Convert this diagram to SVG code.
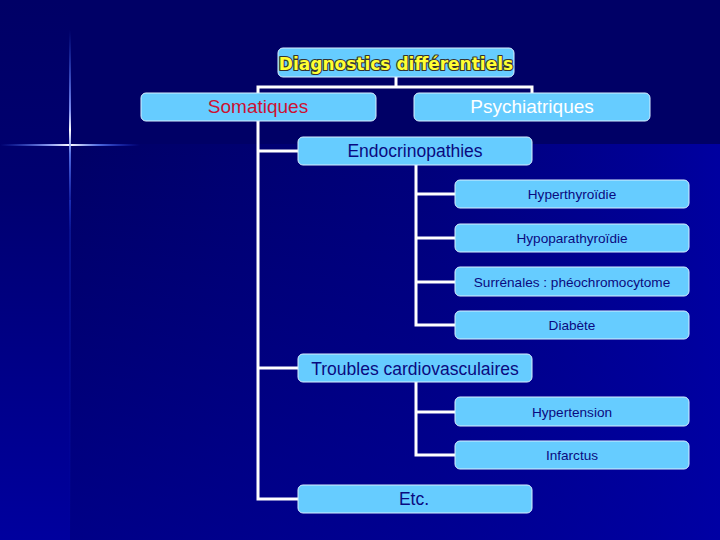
<svg xmlns="http://www.w3.org/2000/svg" width="720" height="540" viewBox="0 0 720 540">
<defs>
<linearGradient id="leftBand" x1="0" y1="0" x2="0" y2="1">
<stop offset="0" stop-color="#000066"/>
<stop offset="0.35" stop-color="#000070"/>
<stop offset="1" stop-color="#00009e"/>
</linearGradient>
<linearGradient id="rightBand" x1="0" y1="0" x2="1" y2="0">
<stop offset="0" stop-color="#00008a" stop-opacity="0"/>
<stop offset="0.55" stop-color="#000088" stop-opacity="0.6"/>
<stop offset="1" stop-color="#0000a0"/>
</linearGradient>
<linearGradient id="rightBandV" x1="0" y1="0" x2="0" y2="1">
<stop offset="0" stop-color="#0000a0" stop-opacity="0"/>
<stop offset="1" stop-color="#0000a8" stop-opacity="0.5"/>
</linearGradient>
<linearGradient id="flareH" x1="0" y1="0" x2="1" y2="0">
<stop offset="0" stop-color="#3366ff" stop-opacity="0"/>
<stop offset="0.35" stop-color="#99aaff" stop-opacity="0.9"/>
<stop offset="0.5" stop-color="#ffffff"/>
<stop offset="0.7" stop-color="#6688ff" stop-opacity="0.8"/>
<stop offset="1" stop-color="#2244ff" stop-opacity="0"/>
</linearGradient>
<linearGradient id="flareV" x1="0" y1="0" x2="0" y2="1">
<stop offset="0" stop-color="#3366ff" stop-opacity="0"/>
<stop offset="0.4" stop-color="#8899ff" stop-opacity="0.9"/>
<stop offset="0.5" stop-color="#ffffff"/>
<stop offset="0.62" stop-color="#6688ff" stop-opacity="0.8"/>
<stop offset="1" stop-color="#2244ff" stop-opacity="0"/>
</linearGradient>
<linearGradient id="flareTail" x1="0" y1="0" x2="0" y2="1">
<stop offset="0" stop-color="#2244dd" stop-opacity="0.5"/>
<stop offset="1" stop-color="#1122cc" stop-opacity="0"/>
</linearGradient>
</defs>
<style>
.box{fill:#66ccff;stroke:#d8efff;stroke-width:1}
.conn{stroke:#ffffff;stroke-width:3;fill:none}
.t{font-family:"Liberation Sans",Arial,sans-serif;text-anchor:middle;fill:#0a0a80}
.big{font-size:17.5px}
.small{font-size:13.6px}
</style>
<!-- background -->
<rect x="0" y="0" width="720" height="540" fill="#000066"/>
<rect x="0" y="0" width="70" height="540" fill="url(#leftBand)"/>
<rect x="70" y="144" width="650" height="396" fill="url(#rightBand)"/>
<rect x="70" y="144" width="650" height="396" fill="url(#rightBandV)"/>
<rect x="69.5" y="200" width="1.2" height="340" fill="url(#flareTail)"/>
<rect x="0" y="144" width="140" height="2" fill="url(#flareH)"/>
<rect x="69" y="30" width="2" height="200" fill="url(#flareV)"/>
<g id="connectors">
<polyline class="conn" points="396,77 396,87"/>
<polyline class="conn" points="258,93 258,87 532,87 532,93"/>
<polyline class="conn" points="258,121 258,499 298,499"/>
<line class="conn" x1="258" y1="151" x2="298" y2="151"/>
<line class="conn" x1="258" y1="368" x2="298" y2="368"/>
<polyline class="conn" points="416,165 416,325 455,325"/>
<line class="conn" x1="416" y1="194" x2="455" y2="194"/>
<line class="conn" x1="416" y1="238" x2="455" y2="238"/>
<line class="conn" x1="416" y1="282" x2="455" y2="282"/>
<polyline class="conn" points="416,382 416,455 455,455"/>
<line class="conn" x1="416" y1="412" x2="455" y2="412"/>
</g>
<g id="n-diagnostics">
<rect class="box" x="278" y="48" width="236" height="29" rx="5"/>
<text x="396" y="70" style="font-family:'DejaVu Sans',Verdana,sans-serif;font-weight:bold;font-size:17px;text-anchor:middle;fill:#ffff33;stroke:#333333;stroke-width:2.2;paint-order:stroke;stroke-linejoin:round">Diagnostics différentiels</text>
</g>
<g id="n-somatiques">
<rect class="box" x="141" y="93" width="235" height="28" rx="5"/>
<text class="t" x="258" y="113" style="font-size:19px;fill:#cc1133">Somatiques</text>
</g>
<g id="n-psychiatriques">
<rect class="box" x="414" y="93" width="236" height="28" rx="5"/>
<text class="t" x="532" y="113" style="font-size:19px;fill:#ffffff">Psychiatriques</text>
</g>
<g id="n-endocrinopathies">
<rect class="box" x="298" y="137" width="234" height="28" rx="5"/>
<text class="t big" x="415" y="157">Endocrinopathies</text>
</g>
<g id="n-hyperthyroidie">
<rect class="box" x="455" y="180" width="234" height="28" rx="5"/>
<text class="t small" x="572" y="199">Hyperthyroïdie</text>
</g>
<g id="n-hypoparathyroidie">
<rect class="box" x="455" y="224" width="234" height="28" rx="5"/>
<text class="t small" x="572" y="243">Hypoparathyroïdie</text>
</g>
<g id="n-surrenales">
<rect class="box" x="455" y="267" width="234" height="29" rx="5"/>
<text class="t small" x="572" y="287">Surrénales : phéochromocytome</text>
</g>
<g id="n-diabete">
<rect class="box" x="455" y="311" width="234" height="28" rx="5"/>
<text class="t small" x="572" y="330">Diabète</text>
</g>
<g id="n-troubles">
<rect class="box" x="298" y="354" width="234" height="28" rx="5"/>
<text class="t big" x="415" y="375">Troubles cardiovasculaires</text>
</g>
<g id="n-hypertension">
<rect class="box" x="455" y="397" width="234" height="29" rx="5"/>
<text class="t small" x="572" y="417">Hypertension</text>
</g>
<g id="n-infarctus">
<rect class="box" x="455" y="441" width="234" height="28" rx="5"/>
<text class="t small" x="572" y="460">Infarctus</text>
</g>
<g id="n-etc">
<rect class="box" x="298" y="485" width="234" height="28" rx="5"/>
<text class="t big" x="414" y="505">Etc.</text>
</g>
</svg>
